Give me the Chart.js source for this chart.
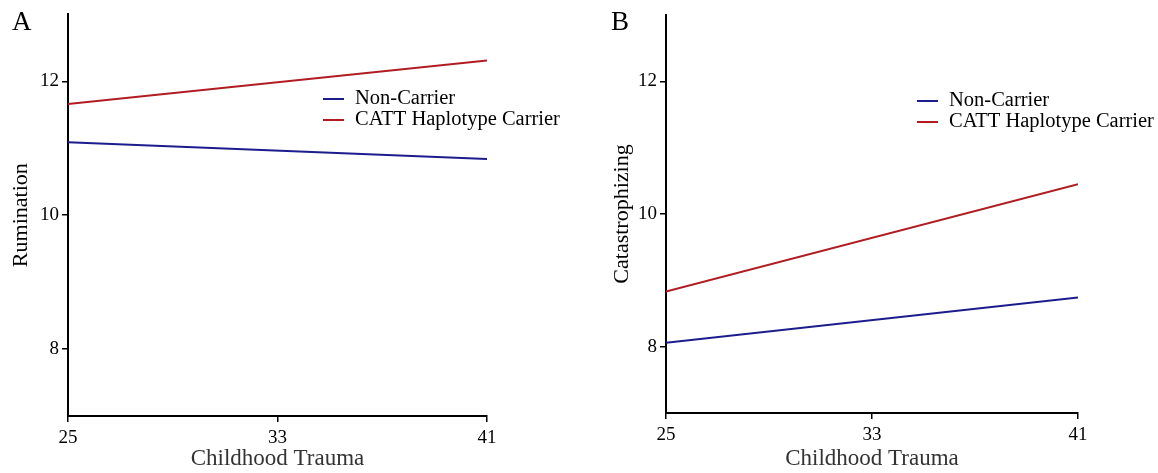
<!DOCTYPE html>
<html>
<head>
<meta charset="utf-8">
<script src="https://cdn.jsdelivr.net/npm/chart.js@4.4.1/dist/chart.umd.min.js"></script>
<style>
  body { margin: 0; background: #fff; }
  .panel { position: absolute; top: 0; width: 579px; height: 473px; }
  #wrapA { left: 0; }
  #wrapB { left: 579px; }
</style>
</head>
<body>
<div class="panel" id="wrapA"><canvas id="chartA" width="579" height="473"></canvas></div>
<div class="panel" id="wrapB"><canvas id="chartB" width="579" height="473"></canvas></div>
<script>
// Childhood trauma levels (x axis)
const traumaLevels = [25, 41];
const xTicks = [25, 33, 41];
const yTicks = [8, 10, 12];
const seriesNames = ['Non-Carrier', 'CATT Haplotype Carrier'];

// Panel A - Rumination
const ruminationNonCarrier = [11.09, 10.84];
const ruminationCarrier = [11.66, 12.31];

// Panel B - Catastrophizing
const catastNonCarrier = [8.06, 8.74];
const catastCarrier = [8.83, 10.45];

const blue = '#1c1c8c';
const red = '#b01c22';
const font = '"Liberation Serif", "Times New Roman", serif';

// draws panel letter and the legend box in the top right
const legendPlugin = {
  id: 'panelLegend',
  afterDraw(chart, args, opts) {
    const ctx = chart.ctx;
    ctx.save();
    ctx.fillStyle = '#000';
    ctx.font = '27px ' + font;
    ctx.textBaseline = 'middle';
    ctx.textAlign = 'left';
    ctx.fillText(opts.letter, opts.letterX, 23);

    ctx.font = '20.5px ' + font;
    chart.data.datasets.forEach((ds, i) => {
      const y = opts.y + i * 21;
      ctx.strokeStyle = ds.borderColor;
      ctx.lineWidth = 2;
      ctx.beginPath();
      ctx.moveTo(opts.x, y);
      ctx.lineTo(opts.x + 21, y);
      ctx.stroke();
      ctx.fillStyle = '#000';
      ctx.fillText(ds.label, opts.x + 32, y);
    });
    ctx.restore();
  }
};

function makeChart(id, nonCarrier, carrier, yTitle, layout) {
  const toPoints = vals => traumaLevels.map((x, i) => ({ x: x, y: vals[i] }));
  return new Chart(document.getElementById(id), {
    type: 'line',
    data: {
      datasets: [
        { label: seriesNames[0], data: toPoints(nonCarrier), borderColor: blue, borderWidth: 2, pointRadius: 0, fill: false },
        { label: seriesNames[1], data: toPoints(carrier), borderColor: red, borderWidth: 2, pointRadius: 0, fill: false }
      ]
    },
    options: {
      responsive: false,
      animation: false,
      layout: { padding: { top: layout.top, right: layout.right, left: 0, bottom: 0 } },
      plugins: {
        legend: { display: false },
        tooltip: { enabled: false },
        panelLegend: layout.legend
      },
      scales: {
        x: {
          type: 'linear',
          min: 25,
          max: 41,
          afterBuildTicks: s => { s.ticks = xTicks.map(v => ({ value: v })); },
          afterFit: s => { s.height = layout.xHeight; },
          grid: { display: true, drawOnChartArea: false, drawTicks: true, tickLength: 6, color: '#000', lineWidth: 1.5 },
          border: { display: true, color: '#000', width: 2 },
          ticks: { color: '#000', font: { family: font, size: 19 }, padding: 5, maxRotation: 0 },
          title: { display: true, text: 'Childhood Trauma', color: '#333', font: { family: font, size: 23 }, padding: { top: 0, bottom: 0 } }
        },
        y: {
          min: 7,
          max: 13,
          afterBuildTicks: s => { s.ticks = yTicks.map(v => ({ value: v })); },
          afterFit: s => { s.width = layout.yWidth; },
          grid: { display: true, drawOnChartArea: false, drawTicks: true, tickLength: 6, color: '#000', lineWidth: 1.5 },
          border: { display: true, color: '#000', width: 2 },
          ticks: { color: '#000', font: { family: font, size: 19 }, padding: 3 },
          title: { display: true, text: yTitle, color: '#000', font: { family: font, size: 22 }, padding: { top: layout.titlePad, bottom: 0 } }
        }
      }
    },
    plugins: [legendPlugin]
  });
}

makeChart('chartA', ruminationNonCarrier, ruminationCarrier, 'Rumination', {
  top: 12, right: 92, xHeight: 57, yWidth: 68, titlePad: 8,
  legend: { letter: 'A', letterX: 12, x: 323, y: 99 }
});

makeChart('chartB', catastNonCarrier, catastCarrier, 'Catastrophizing', {
  top: 15, right: 80, xHeight: 60, yWidth: 87, titlePad: 30,
  legend: { letter: 'B', letterX: 32, x: 338, y: 101 }
});
</script>
</body>
</html>
